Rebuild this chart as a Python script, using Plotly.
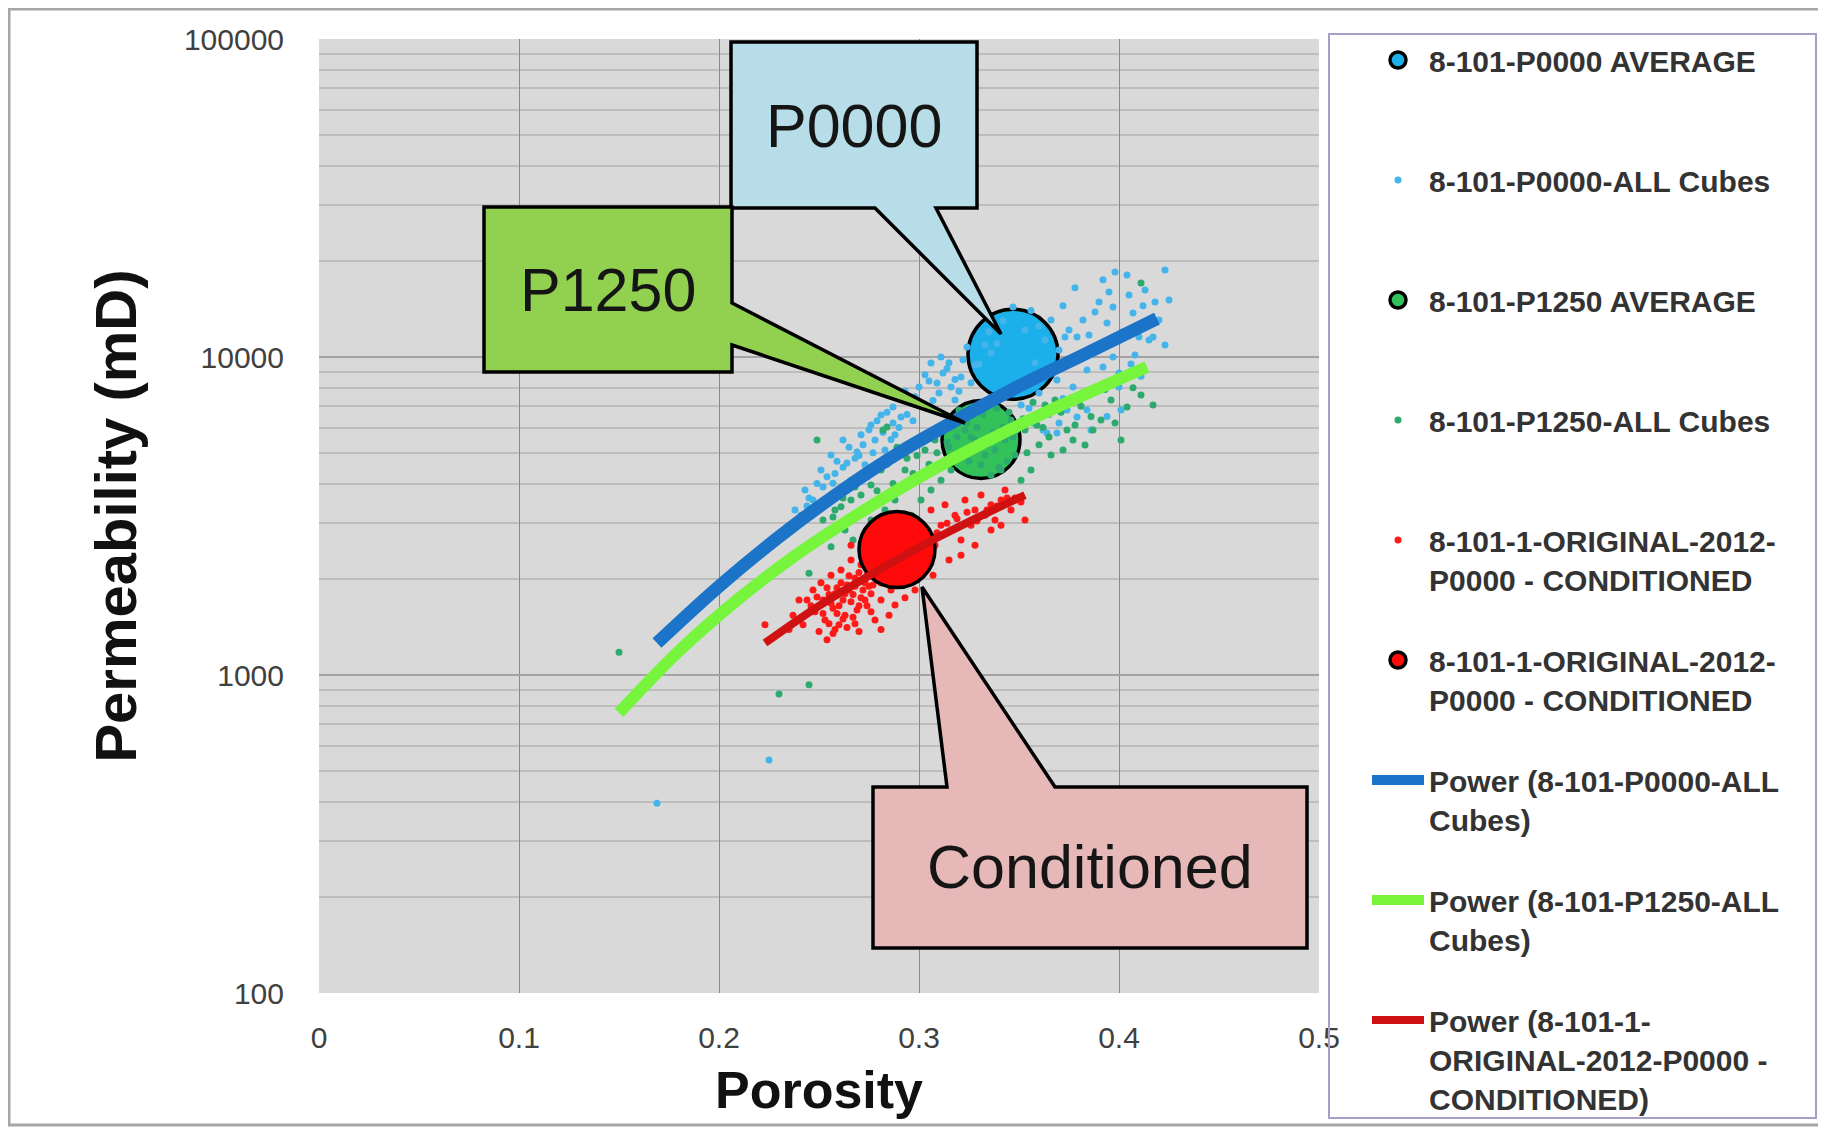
import plotly.graph_objects as go

# ------------------------------------------------------------------ data
x_tick_vals = [0, 0.1, 0.2, 0.3, 0.4, 0.5]
x_tick_text = ["0", "0.1", "0.2", "0.3", "0.4", "0.5"]
y_tick_vals = [100, 1000, 10000, 100000]
y_tick_text = ["100", "1000", "10000", "100000"]

series_names = [
    "8-101-P0000 AVERAGE",
    "8-101-P0000-ALL Cubes",
    "8-101-P1250 AVERAGE",
    "8-101-P1250-ALL Cubes",
    "8-101-1-ORIGINAL-2012-<br>P0000 - CONDITIONED",
    "8-101-1-ORIGINAL-2012-<br>P0000 - CONDITIONED",
    "Power (8-101-P0000-ALL<br>Cubes)",
    "Power (8-101-P1250-ALL<br>Cubes)",
    "Power (8-101-1-<br>ORIGINAL-2012-P0000 -<br>CONDITIONED)",
]

# averages
p0000_avg_phi = [0.347]
p0000_avg_k = [10200]
p1250_avg_phi = [0.331]
p1250_avg_k = [5500]
cond_avg_phi = [0.289]
cond_avg_k = [2480]

# P0000 - all cubes
p0000_phi = [
    0.398, 0.404, 0.423, 0.418, 0.390, 0.397, 0.388, 0.382, 0.375, 0.373,
    0.379, 0.394, 0.407, 0.410, 0.417, 0.397, 0.390, 0.400, 0.400, 0.415,
    0.401, 0.386, 0.420, 0.425, 0.413, 0.405, 0.385, 0.370, 0.384, 0.367,
    0.369, 0.377, 0.360, 0.374, 0.379, 0.384, 0.370, 0.362, 0.369, 0.357,
    0.364, 0.388, 0.408, 0.423,
    0.347, 0.324, 0.306, 0.312, 0.300, 0.309, 0.316, 0.321, 0.296, 0.291,
    0.353, 0.363, 0.366, 0.333, 0.328, 0.318, 0.343, 0.351,
    0.287, 0.287, 0.281, 0.276, 0.269, 0.264, 0.257, 0.243, 0.262, 0.271,
    0.278, 0.251, 0.247, 0.256, 0.266, 0.273, 0.283, 0.241, 0.236,
    0.245, 0.252, 0.258, 0.262, 0.268, 0.272, 0.277, 0.282, 0.286, 0.290,
    0.294, 0.298, 0.302, 0.305, 0.310, 0.314, 0.318, 0.322, 0.326, 0.330,
    0.335, 0.339, 0.342, 0.356, 0.360, 0.372, 0.378, 0.392, 0.395, 0.402,
    0.406, 0.411, 0.392, 0.380, 0.394, 0.372, 0.365, 0.355, 0.389, 0.412,
    0.238, 0.244, 0.249, 0.254, 0.259, 0.265, 0.270, 0.275, 0.279, 0.284,
    0.288, 0.293, 0.297, 0.303, 0.307, 0.311, 0.315, 0.320, 0.336, 0.358,
    0.169, 0.225,
]
p0000_k = [
    18500, 18100, 18790, 14890, 14890, 14360, 13860, 13070, 12160, 11560,
    11560, 12790, 13750, 11560, 11560, 10000, 10520, 8910, 8050, 11310,
    6810, 5890, 13070, 15100, 16250, 15680, 11720, 10520, 9100, 9100,
    8470, 8050, 7710, 6810, 6480, 6810, 6200, 5890, 5770, 6200,
    5770, 7760, 10140, 10910,
    14360, 10750, 9570, 8910, 8050, 8280, 8050, 8650, 7170, 6480,
    12160, 11310, 13070, 10910, 9440, 7330, 7600, 7060,
    6200, 6960, 6570, 6110, 5030, 4640, 4010, 3820, 5480, 5690,
    5480, 4410, 3550, 4920, 4100, 4580, 5100, 3180, 2960,
    3600, 3900, 4300, 4500, 4800, 5300, 5000, 5800, 5500, 6000,
    6600, 7500, 7000, 8400, 7700, 9200, 8500, 9800, 8300, 9500,
    12000, 11000, 13000, 14000, 12500, 14500, 16500, 17500, 16000, 12000,
    9500, 8700, 9300, 7200, 6500, 7400, 6600, 6900, 10800, 14500,
    3300, 3400, 4000, 4200, 4700, 5200, 4900, 5900, 6300, 6700,
    5700, 7800, 6300, 8800, 7300, 10000, 9600, 7800, 10300, 9600,
    395, 540,
]

# P1250 - all cubes
p1250_phi = [
    0.252, 0.257, 0.261, 0.266, 0.271, 0.272, 0.276, 0.281, 0.284, 0.282,
    0.286, 0.291, 0.293, 0.298, 0.303, 0.308, 0.313, 0.318, 0.323, 0.328,
    0.333, 0.338, 0.343, 0.346, 0.341, 0.336, 0.331, 0.321, 0.316, 0.311,
    0.306, 0.301, 0.348, 0.353, 0.358, 0.363, 0.368, 0.374, 0.378, 0.387,
    0.377, 0.383, 0.391, 0.396, 0.404, 0.411, 0.417, 0.411, 0.401, 0.366,
    0.356, 0.351, 0.288, 0.296, 0.245, 0.256, 0.267, 0.263, 0.276, 0.283,
    0.258, 0.262, 0.268, 0.274, 0.279, 0.284, 0.289, 0.294, 0.299, 0.304,
    0.309, 0.314, 0.319, 0.324, 0.327, 0.332, 0.337, 0.342, 0.347, 0.352,
    0.357, 0.362, 0.371, 0.381, 0.386, 0.393, 0.398, 0.407, 0.360, 0.372,
    0.305, 0.310, 0.315, 0.320, 0.325, 0.329, 0.334, 0.339, 0.344, 0.349,
    0.354, 0.359, 0.326, 0.316, 0.297, 0.287, 0.278, 0.340, 0.345, 0.365,
    0.150, 0.230, 0.245, 0.249,
]
p1250_k = [
    3070, 3140, 3380, 3550, 3680, 4320, 3960, 4410, 6020, 5890,
    4750, 4920, 4410, 5290, 5100, 5480, 6110, 6340, 5890, 5480,
    4920, 5100, 5480, 6340, 4410, 4250, 4580, 4920, 4410, 4100,
    3820, 3550, 4920, 5890, 6570, 7060, 7330, 5890, 6110, 5890,
    5480, 5290, 6340, 7330, 6960, 7600, 7060, 17090, 5480, 4920,
    4410, 4100, 3550, 3180, 2090, 2530, 2660, 2860, 3070, 3300,
    3300, 3600, 3900, 4200, 3800, 4600, 5200, 4800, 4900, 5700,
    5000, 5400, 5600, 6200, 5100, 6600, 5800, 6000, 5600, 6400,
    7200, 6000, 6700, 7000, 6500, 7900, 6200, 8000, 5300, 5100,
    4600, 5900, 5200, 6800, 4700, 6000, 5300, 6900, 4700, 5900,
    5000, 6100, 5600, 4700, 4300, 4000, 4500, 4500, 6700, 5600,
    1180, 872, 931, 5480,
]

# 8-101-1-ORIGINAL-2012-P0000 - CONDITIONED
cond_phi = [
    0.244, 0.247, 0.248, 0.251, 0.252, 0.253, 0.255, 0.256, 0.257, 0.259,
    0.260, 0.261, 0.262, 0.263, 0.264, 0.266, 0.267, 0.268, 0.269, 0.271,
    0.272, 0.273, 0.274, 0.276, 0.277, 0.278, 0.280, 0.281, 0.282, 0.283,
    0.284, 0.285, 0.286, 0.287, 0.289, 0.291, 0.293, 0.296, 0.298, 0.301,
    0.303, 0.306, 0.308, 0.311, 0.313, 0.316, 0.318, 0.321, 0.323, 0.326,
    0.328, 0.331, 0.333, 0.336, 0.338, 0.341, 0.343, 0.346, 0.348, 0.351,
    0.250, 0.254, 0.258, 0.264, 0.270, 0.276, 0.281, 0.288, 0.293, 0.298,
    0.307, 0.315, 0.321, 0.328, 0.336, 0.341, 0.237, 0.240, 0.242, 0.235,
    0.223, 0.266, 0.272, 0.278, 0.353,
    0.246, 0.249, 0.252, 0.254, 0.256, 0.258, 0.259, 0.261, 0.263, 0.265,
    0.266, 0.268, 0.270, 0.271, 0.273, 0.275, 0.276, 0.278, 0.279, 0.281,
    0.283, 0.285, 0.287, 0.289, 0.292, 0.295, 0.299, 0.304, 0.309, 0.314,
    0.319, 0.324, 0.329, 0.334, 0.339, 0.344, 0.255, 0.262, 0.268, 0.274,
    0.260, 0.265, 0.270, 0.275, 0.280, 0.285, 0.290, 0.294, 0.297, 0.302,
    0.257, 0.267,
]
cond_k = [
    1720, 1850, 1580, 1950, 1720, 1490, 1790, 2060, 1620, 1880,
    1440, 2140, 1720, 1540, 1920, 2300, 1790, 2020, 1600, 2220,
    1850, 1720, 2060, 2380, 1920, 1490, 2140, 1720, 2300, 1990,
    2560, 1540, 1850, 2140, 2860, 1990, 2300, 2660, 3070, 2380,
    2750, 3300, 2560, 2960, 3430, 2860, 3180, 2660, 3550, 2960,
    3300, 3680, 3180, 3430, 3070, 3550, 3820, 3300, 3600, 3500,
    1370, 1290, 1390, 1410, 1370, 1580, 1390, 1660, 1750, 1850,
    2060, 2300, 2380, 2560, 2860, 2960, 1540, 1720, 1440, 1390,
    1440, 2560, 2660, 2750, 3070,
    1650, 1760, 1560, 1880, 1680, 1800, 1560, 1950, 1800, 2050,
    1700, 1900, 2100, 1750, 1950, 2200, 1800, 2050, 2350, 1950,
    2200, 2400, 2000, 2250, 2550, 2200, 2500, 2600, 2800, 3000,
    3100, 3250, 3050, 3300, 3400, 3600, 1450, 1500, 1450, 1650,
    1650, 1850, 1650, 1900, 2500, 2100, 2400, 2050, 2700, 2750,
    1350, 1520,
]

# power trend lines
p0000_fit_phi = [0.169, 0.20, 0.23, 0.26, 0.29, 0.32, 0.35, 0.38, 0.419]
p0000_fit_k = [1260, 1900, 2720, 3750, 5000, 6400, 8100, 10000, 13200]
p1250_fit_phi = [0.150, 0.18, 0.21, 0.24, 0.27, 0.30, 0.33, 0.36, 0.39, 0.414]
p1250_fit_k = [760, 1190, 1740, 2420, 3220, 4180, 5280, 6550, 7980, 9300]
cond_fit_phi = [0.223, 0.25, 0.28, 0.31, 0.34, 0.353]
cond_fit_k = [1260, 1650, 2140, 2720, 3370, 3680]

callout_labels = ["P0000", "P1250", "Conditioned"]

# ------------------------------------------------------------------ layout geometry
# (targets in screenshot pixels; the page body adds an 8 px offset)
FONT = "Liberation Sans, Arial, Helvetica, sans-serif"
W, H = 1826, 1129
OFF = 8
PL, PR, PT, PB = 319, 1319, 39, 993


def px(x):
    return (x - PL) / (PR - PL)


def py(y):
    return (PB - y) / (PB - PT)


def poly_path(points):
    return "M " + " L ".join(f"{px(a):.5f},{py(b):.5f}" for a, b in points) + " Z"


callout_polys = [
    [(731, 42), (977, 42), (977, 208), (936, 208), (1001, 334), (875, 208), (731, 208)],
    [(484, 207), (732, 207), (732, 303), (965, 423), (732, 345), (732, 372), (484, 372)],
    [(873, 787), (947, 787), (922, 587), (1055, 787), (1307, 787), (1307, 948), (873, 948)],
]
callout_fills = ["#B7DEE8", "#92D050", "#E6B9B8"]
callout_text_pos = [(854, 126), (608, 290), (1090, 867)]

# ------------------------------------------------------------------ figure
fig = go.Figure()


def legend_name(i):
    # single-line entries get an empty second line so every entry has the same pitch
    return series_names[i] + ("" if "<br>" in series_names[i] else "<br> ")


def avg_trace(i, phi, k, color, size):
    return go.Scatter(
        x=phi, y=k, mode="markers", name=legend_name(i), legendgroup=f"g{i}",
        marker=dict(size=size, color=color, line=dict(color="black", width=3.5)),
    )


def dots_trace(i, phi, k, color, size):
    return go.Scatter(
        x=phi, y=k, mode="markers", name=legend_name(i), legendgroup=f"g{i}",
        marker=dict(size=size, color=color, line=dict(width=0)),
    )


def fit_trace(i, phi, k, color, width):
    return go.Scatter(
        x=phi, y=k, mode="lines", name=legend_name(i), legendgroup=f"g{i}",
        line=dict(color=color, width=width, shape="spline"),
    )


fig.add_trace(avg_trace(0, p0000_avg_phi, p0000_avg_k, "#1BB0EA", 90))
fig.add_trace(dots_trace(1, p0000_phi, p0000_k, "#45B4EA", 7))
fig.add_trace(avg_trace(2, p1250_avg_phi, p1250_avg_k, "#33C25A", 78))
fig.add_trace(dots_trace(3, p1250_phi, p1250_k, "#2DAA6E", 7))
fig.add_trace(dots_trace(4, cond_phi, cond_k, "#FF1A1A", 7))
fig.add_trace(avg_trace(5, cond_avg_phi, cond_avg_k, "#FF0A0A", 76))
fig.add_trace(fit_trace(6, p0000_fit_phi, p0000_fit_k, "#1C74C8", 13))
fig.add_trace(fit_trace(7, p1250_fit_phi, p1250_fit_k, "#77F53D", 12))
fig.add_trace(fit_trace(8, cond_fit_phi, cond_fit_k, "#CF1111", 8))

shapes = []
for poly, fill in zip(callout_polys, callout_fills):
    shapes.append(dict(type="path", xref="paper", yref="paper", path=poly_path(poly),
                       fillcolor=fill, line=dict(color="black", width=3.5), layer="above"))
# legend frame
shapes.append(dict(type="rect", xref="paper", yref="paper",
                   x0=px(1329), x1=px(1816), y0=py(34), y1=py(1118),
                   line=dict(color="#A89FC8", width=2), fillcolor="rgba(0,0,0,0)", layer="above"))
# outer chart frame
shapes.append(dict(type="rect", xref="paper", yref="paper",
                   x0=px(9), x1=px(1821), y0=py(9), y1=py(1125),
                   line=dict(color="#A6A6A6", width=3), fillcolor="rgba(0,0,0,0)", layer="above"))

annotations = []
for label, (cx, cy) in zip(callout_labels, callout_text_pos):
    annotations.append(dict(xref="paper", yref="paper", x=px(cx), y=py(cy), text=label,
                            showarrow=False, xanchor="center", yanchor="middle",
                            font=dict(family=FONT, size=61, color="#151515")))

fig.update_layout(
    width=W - OFF, height=H - OFF,
    margin=dict(l=PL - OFF, r=W - PR, t=PT - OFF, b=H - PB, pad=0, autoexpand=False),
    paper_bgcolor="white",
    plot_bgcolor="#D9D9D9",
    font=dict(family=FONT, color="#333333"),
    shapes=shapes,
    annotations=annotations,
    showlegend=True,
    legend=dict(
        x=px(1367), xanchor="left",
        yref="container", y=1 - (34 - OFF) / (H - OFF), yanchor="top",
        maxheight=1110,
        bgcolor="rgba(0,0,0,0)", borderwidth=0,
        font=dict(family=FONT, size=30, color="#333333", weight="bold"),
        valign="top", itemwidth=52, tracegroupgap=39, traceorder="grouped",
    ),
    xaxis=dict(
        range=[0, 0.5], tickvals=x_tick_vals, ticktext=x_tick_text,
        showgrid=True, gridcolor="#8A8A8A", gridwidth=1.3,
        zeroline=False, showline=False, ticks="",
        tickfont=dict(family=FONT, size=30, color="#404040"),
        ticklabelstandoff=24, automargin=False,
        title=dict(text="Porosity", standoff=18,
                   font=dict(family=FONT, size=52, color="#111111", weight="bold")),
    ),
    yaxis=dict(
        type="log", range=[2, 5], tickvals=y_tick_vals, ticktext=y_tick_text,
        showgrid=True, gridcolor="#A3A3A3", gridwidth=2,
        minor=dict(dtick="D1", showgrid=True, gridcolor="#BDBDBD", gridwidth=1.5, ticks=""),
        zeroline=False, showline=False, ticks="",
        tickfont=dict(family=FONT, size=30, color="#404040"),
        ticklabelstandoff=34, automargin=False,
        title=dict(text="Permeability (mD)", standoff=28,
                   font=dict(family=FONT, size=58, color="#111111", weight="bold")),
    ),
)

fig.write_html("out.html")
